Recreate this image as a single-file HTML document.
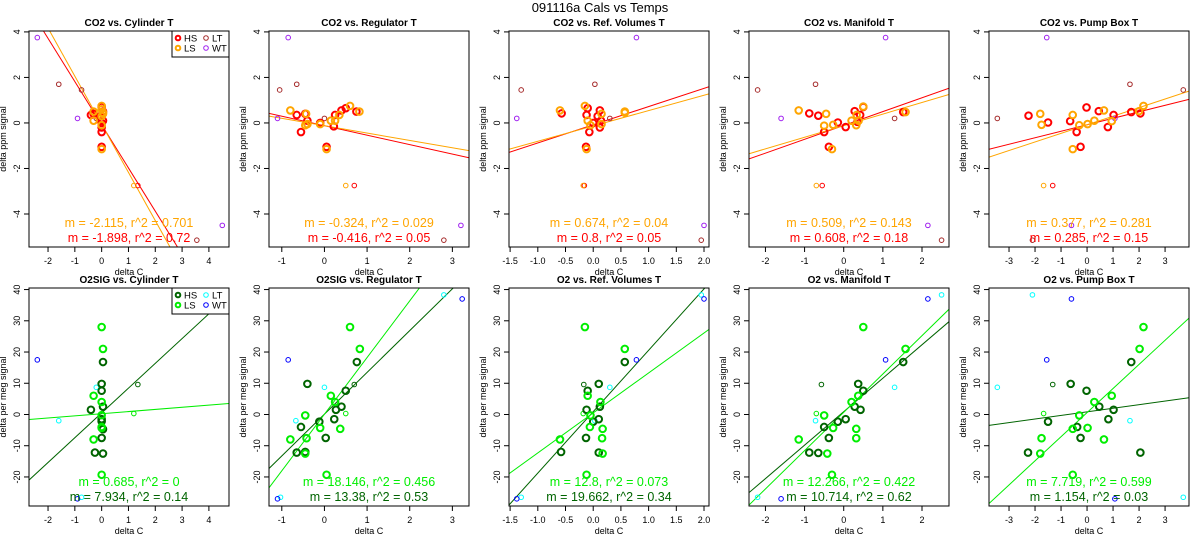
<!DOCTYPE html>
<html><head><meta charset="utf-8">
<style>
html,body{margin:0;padding:0;background:#fff;}
svg{display:block;font-family:"Liberation Sans",Arial,sans-serif;}
</style></head>
<body>
<svg id="chart" width="1200" height="550" viewBox="0 0 1200 550" xmlns="http://www.w3.org/2000/svg">
<text x="600" y="12" text-anchor="middle" font-size="13">091116a   Cals vs Temps</text>
</svg>
<script>
// ---------- data ----------
const panelTitlesTop = ["CO2 vs. Cylinder T","CO2 vs. Regulator T","CO2 vs. Ref. Volumes T","CO2 vs. Manifold T","CO2 vs. Pump Box T"];
const panelTitlesBot = ["O2SIG vs. Cylinder T","O2SIG vs. Regulator T","O2 vs. Ref. Volumes T","O2 vs. Manifold T","O2 vs. Pump Box T"];
const xDomains = [[-2.71,4.75],[-1.30,3.39],[-1.52,2.09],[-2.42,2.69],[-3.77,3.92]];
const xTicks = [[-2,-1,0,1,2,3,4],[-1,0,1,2,3],[-1.5,-1.0,-0.5,0,0.5,1.0,1.5,2.0],[-2,-1,0,1,2],[-3,-2,-1,0,1,2,3]];
const xTickLabels = [["-2","-1","0","1","2","3","4"],["-1","0","1","2","3"],["-1.5","-1.0","-0.5","0.0","0.5","1.0","1.5","2.0"],["-2","-1","0","1","2"],["-3","-2","-1","0","1","2","3"]];
const yDomainTop = [-5.45,4.04];
const yTicksTop = [-4,-2,0,2,4];
const yDomainBot = [-29.3,40.5];
const yTicksBot = [-20,-10,0,10,20,30,40];

// CO2 (top row) points per panel
const co2HS = [
 [[-0.4,0.35],[-0.3,0.4],[0,-0.4],[0,-0.2],[0,-1.05],[0,0.7],[0.05,0.5],[0.05,0.1],[-0.05,0.3],[0,0.0]],
 [[-0.65,0.35],[-0.45,0.4],[-0.55,-0.4],[-0.4,0.1],[-0.1,0.0],[0.05,-1.05],[0.25,0.35],[0.22,-0.15],[0.4,0.55],[0.5,0.65],[0.75,0.5]],
 [[-0.57,0.42],[-0.12,0.35],[-0.1,0.65],[-0.07,-0.4],[0.0,0.0],[0.08,0.3],[0.12,0.55],[0.12,-0.2],[-0.13,-1.05],[0.14,0.1]],
 [[-0.88,0.42],[-0.65,0.32],[-0.5,-0.4],[-0.38,-1.05],[-0.15,0.02],[0.05,-0.18],[0.28,0.52],[0.42,0.35],[0.5,0.7],[1.52,0.48],[0.35,0.05]],
 [[-2.25,0.32],[-1.5,0.02],[-0.65,0.08],[-0.4,-0.4],[-0.25,-1.05],[-0.02,0.68],[0.45,0.52],[0.8,-0.18],[1.02,0.35],[1.7,0.48],[2.05,0.42]]
];
const co2LS = [
 [[-0.3,0.5],[-0.3,0.1],[0,0.75],[0,0.6],[0.05,0.4],[0,-0.1],[0,-1.15],[0,0.3],[0.05,0.45]],
 [[-0.8,0.55],[-0.45,-0.1],[-0.4,-0.05],[-0.1,-0.05],[0.05,-1.15],[0.15,0.1],[0.25,0.1],[0.35,0.35],[0.6,0.75],[0.82,0.5],[-0.43,0.4]],
 [[-0.6,0.55],[-0.15,0.75],[-0.1,0.1],[-0.05,-0.1],[0.15,0.4],[0.15,-0.05],[0.57,0.5],[-0.12,-1.15],[0.57,0.45]],
 [[-1.15,0.55],[-0.45,0.4],[-0.5,-0.12],[-0.27,-0.08],[-0.3,-1.15],[0.2,0.1],[0.32,-0.1],[0.33,0.35],[0.5,0.72],[1.58,0.48],[0.38,0.1]],
 [[-1.8,0.4],[-1.75,-0.08],[-0.55,0.35],[-0.3,-0.1],[-0.55,-1.15],[0.02,-0.05],[0.28,0.1],[0.65,0.55],[0.95,0.08],[2.0,0.52],[2.17,0.75]]
];
const co2HSthin = [[[1.35,-2.75]],[[0.7,-2.75]],[[-0.16,-2.75]],[[-0.55,-2.75]],[[-1.32,-2.75]]];
const co2LSthin = [[[1.2,-2.75]],[[0.5,-2.75]],[[-0.18,-2.75]],[[-0.7,-2.75]],[[-1.67,-2.75]]];
const co2LT = [
 [[-1.6,1.7],[-0.75,1.45],[-0.2,0.2],[3.55,-5.15]],
 [[-1.05,1.45],[-0.65,1.7],[0,0.2],[2.8,-5.15]],
 [[-1.3,1.45],[0.03,1.7],[0.3,0.2],[1.95,-5.15]],
 [[-2.2,1.45],[-0.72,1.7],[1.3,0.2],[2.5,-5.15]],
 [[-3.45,0.2],[1.65,1.7],[3.7,1.45],[-2.1,-5.15]]
];
const co2WT = [
 [[-2.4,3.75],[-0.9,0.2],[4.5,-4.5]],
 [[-0.85,3.75],[-1.1,0.2],[3.2,-4.5]],
 [[-1.38,0.2],[0.78,3.75],[2.0,-4.5]],
 [[-1.6,0.2],[1.07,3.75],[2.15,-4.5]],
 [[-1.55,3.75],[1.07,0.2],[-0.6,-4.5]]
];
const co2SlopeHS = [-1.898,-0.416,0.8,0.608,0.285];
const co2IntHS = [-0.08,-0.12,-0.08,-0.11,-0.08];
const co2SlopeLS = [-2.115,-0.324,0.674,0.509,0.377];
const co2IntLS = [-0.06,-0.12,-0.13,-0.12,-0.08];
const co2TextLS = ["m = -2.115, r^2 = 0.701","m = -0.324, r^2 = 0.029","m = 0.674, r^2 = 0.04","m = 0.509, r^2 = 0.143","m = 0.377, r^2 = 0.281"];
const co2TextHS = ["m = -1.898, r^2 = 0.72","m = -0.416, r^2 = 0.05","m = 0.8, r^2 = 0.05","m = 0.608, r^2 = 0.18","m = 0.285, r^2 = 0.15"];

// O2 (bottom row)
const o2HS = [
 [[-0.4,1.5],[0,9.8],[0,7.6],[0.05,16.8],[0.05,2.5],[0,-2.2],[-0.25,-12.2],[0.05,-12.5],[0,-7.5],[0.05,-4.7],[0,-1.5]],
 [[-0.4,9.8],[-0.55,-4],[-0.12,-2.3],[-0.65,-12.2],[-0.45,-12],[0.03,-7.5],[0.23,-1.5],[0.27,1.5],[0.4,2.5],[0.5,7.6],[0.76,16.8]],
 [[-0.58,-12],[-0.12,1.5],[-0.13,-7.5],[-0.1,7.6],[0.1,9.8],[0.12,2.5],[0.1,-1.5],[0.0,-2.3],[0.1,-12.2],[0.57,16.8]],
 [[-0.88,-12.2],[-0.65,-12.3],[-0.5,-4],[-0.38,-7.5],[-0.15,-2.3],[0.05,-1.5],[0.28,2.5],[0.37,9.8],[0.43,1.5],[0.5,7.6],[1.52,16.8]],
 [[-2.27,-12.2],[-1.5,-2.3],[-0.63,9.8],[-0.38,-4],[-0.25,-7.5],[-0.02,7.6],[0.47,2.5],[0.82,-1.5],[1.02,1.5],[1.7,16.8],[2.05,-12.2]]
];
const o2LS = [
 [[0,28],[0.05,21],[-0.3,6],[0,4],[0,-0.2],[0,-4],[-0.3,-8],[0,-19.3],[0,-4.3]],
 [[-0.45,-0.3],[-0.8,-8],[-0.42,-7.6],[-0.45,-12.5],[-0.1,-4.3],[0.05,-19.3],[0.15,6],[0.25,4],[0.37,-4.6],[0.6,28],[0.83,21]],
 [[-0.6,-8],[-0.15,28],[-0.1,6],[-0.05,-0.3],[-0.06,-4],[0.13,4],[0.17,-4.6],[0.16,-7.6],[0.17,-12.5],[-0.12,-19.3],[0.57,21]],
 [[-1.15,-8],[-0.5,-0.3],[-0.27,-4.3],[-0.42,-12.5],[-0.3,-19.3],[0.2,4],[0.32,-4.6],[0.32,-7.6],[0.37,6],[0.5,28],[1.58,21]],
 [[-1.8,-12.5],[-1.75,-7.6],[-0.55,-4.6],[-0.3,-0.3],[0.02,-4.3],[0.28,4],[0.65,-8],[0.95,6],[2.02,21],[2.17,28],[-0.55,-19.3]]
];
const o2HSthin = [[[1.35,9.6]],[[0.7,9.6]],[[-0.17,9.6]],[[-0.57,9.6]],[[-1.32,9.6]]];
const o2LSthin = [[[1.2,0.3]],[[0.5,0.3]],[[-0.18,0.3]],[[-0.7,0.3]],[[-1.67,0.3]]];
const o2LT = [
 [[-0.2,8.7],[-1.6,-2],[-0.75,-26.5]],
 [[-0.67,-2],[0,8.7],[2.8,38.3],[-1.03,-26.5]],
 [[0.3,8.7],[0.03,-2],[1.95,38.3],[-1.3,-26.5]],
 [[-0.72,-2],[1.3,8.7],[2.5,38.3],[-2.2,-26.5]],
 [[-3.45,8.7],[1.65,-2],[3.7,-26.5],[-2.1,38.3]]
];
const o2WT = [
 [[-2.4,17.5],[-0.9,-27]],
 [[-0.85,17.5],[-1.1,-27],[3.23,37]],
 [[0.78,17.5],[-1.38,-27],[2.0,37]],
 [[1.07,17.5],[-1.6,-27],[2.15,37]],
 [[-1.55,17.5],[1.07,-27],[-0.6,37]]
];
const o2SlopeHS = [7.934,13.38,19.662,10.714,1.154];
const o2IntHS = [0.5,0.1,0.9,0.9,0.85];
const o2SlopeLS = [0.685,18.146,12.8,12.266,7.719];
const o2IntLS = [0.25,0.09,0.5,0.7,0.6];
const o2TextLS = ["m = 0.685, r^2 = 0","m = 18.146, r^2 = 0.456","m = 12.8, r^2 = 0.073","m = 12.266, r^2 = 0.422","m = 7.719, r^2 = 0.599"];
const o2TextHS = ["m = 7.934, r^2 = 0.14","m = 13.38, r^2 = 0.53","m = 19.662, r^2 = 0.34","m = 10.714, r^2 = 0.62","m = 1.154, r^2 = 0.03"];

// ---------- drawing ----------
const NS = "http://www.w3.org/2000/svg";
const svg = document.getElementById('chart');
function mk(tag, attrs, parent){
  const e = document.createElementNS(NS, tag);
  for (const k in attrs) e.setAttribute(k, attrs[k]);
  (parent||svg).appendChild(e);
  return e;
}
const PW = 200, PH_TOP = [31,247], PH_BOT = [288,506];

function drawPanel(col, row){
  const top = row===0;
  const x0 = col*240+29, x1 = x0+PW;
  const [y0,y1] = top ? PH_TOP : PH_BOT;
  const xd = xDomains[col];
  const yd = top ? yDomainTop : yDomainBot;
  const sx = v => x0 + (v - xd[0])/(xd[1]-xd[0])*PW;
  const sy = v => y1 - (v - yd[0])/(yd[1]-yd[0])*(y1-y0);
  const g = mk('g', {});
  
  
  const cid = 'clip'+row+'_'+col;
  const cp = mk('clipPath', {id:cid}, g);
  mk('rect', {x:x0,y:y0,width:PW,height:y1-y0}, cp);

  const t = mk('text', {x:(x0+x1)/2, y:y0-5, 'text-anchor':'middle','font-size':10,'font-weight':'bold'}, g);
  t.textContent = top ? panelTitlesTop[col] : panelTitlesBot[col];
  
  

  // x ticks
  xTicks[col].forEach((v,i)=>{
    const px = sx(v);
    const tk = mk('line', {x1:px,x2:px,y1:y1,y2:y1+5,stroke:'#000','stroke-width':1}, g);
    
    
    const tl = mk('text', {x:px,y:y1+17,'text-anchor':'middle','font-size':9}, g);
    tl.textContent = xTickLabels[col][i];
    
    
  });
  const xl = mk('text', {x:(x0+x1)/2,y:y1+28,'text-anchor':'middle','font-size':9}, g);
  xl.textContent = 'delta C';
  
  

  // y ticks
  (top?yTicksTop:yTicksBot).forEach(v=>{
    const py = sy(v);
    const tk = mk('line', {x1:x0-5,x2:x0,y1:py,y2:py,stroke:'#000','stroke-width':1}, g);
    
    
    const tl = mk('text', {x:x0-9,y:py,'text-anchor':'middle','font-size':9,transform:`rotate(-90 ${x0-9} ${py})`}, g);
    tl.textContent = String(v);
    
    
  });
  const yx = x0-23, yy = (y0+y1)/2;
  const yl = mk('text', {x:yx,y:yy,'text-anchor':'middle','font-size':9,transform:`rotate(-90 ${yx} ${yy})`}, g);
  yl.textContent = top ? 'delta ppm signal' : 'delta per meg signal';
  
  

  const colHS = top ? '#ff0000' : '#006400';
  const colLS = top ? '#ffa500' : '#00ee00';
  const colLT = top ? '#a52a2a' : '#00ffff';
  const colWT = top ? '#a020f0' : '#0000ff';

  // regression lines
  const lines = top ? [[co2SlopeHS[col],co2IntHS[col],colHS,'hs'],[co2SlopeLS[col],co2IntLS[col],colLS,'ls']]
                    : [[o2SlopeHS[col],o2IntHS[col],colHS,'hs'],[o2SlopeLS[col],o2IntLS[col],colLS,'ls']];
  lines.forEach(([m,b,c,n])=>{
    const ln = mk('line', {x1:sx(xd[0]),y1:sy(m*xd[0]+b),x2:sx(xd[1]),y2:sy(m*xd[1]+b),stroke:c,'stroke-width':1,'clip-path':`url(#${cid})`}, g);
    
    
  });

  function pts(arr, color, r, w, name){
    arr.forEach(p=>{
      const c = mk('circle', {cx:sx(p[0]),cy:sy(p[1]),r:r,fill:'none',stroke:color,'stroke-width':w,'clip-path':`url(#${cid})`}, g);
      
      
    });
  }
  if (top){
    pts(co2LT[col], colLT, 2.3, 1, 'point-lt');
    pts(co2WT[col], colWT, 2.3, 1, 'point-wt');
    pts(co2HSthin[col], colHS, 2.3, 1, 'point-hs');
    pts(co2LSthin[col], colLS, 2.3, 1, 'point-ls');
    pts(co2HS[col], colHS, 3.3, 2, 'point-hs');
    pts(co2LS[col], colLS, 3.3, 2, 'point-ls');
  } else {
    pts(o2LT[col], colLT, 2.3, 1, 'point-lt');
    pts(o2WT[col], colWT, 2.3, 1, 'point-wt');
    pts(o2HSthin[col], colHS, 2.3, 1, 'point-hs');
    pts(o2LSthin[col], colLS, 2.3, 1, 'point-ls');
    pts(o2HS[col], colHS, 3.3, 2, 'point-hs');
    pts(o2LS[col], colLS, 3.3, 2, 'point-ls');
  }

  // annotations
  const a1 = mk('text', {x:(x0+x1)/2,y:y1-20,'text-anchor':'middle','font-size':12.5,fill:colLS}, g);
  a1.textContent = top ? co2TextLS[col] : o2TextLS[col];
  
  
  const a2 = mk('text', {x:(x0+x1)/2,y:y1-5,'text-anchor':'middle','font-size':12.5,fill:colHS}, g);
  a2.textContent = top ? co2TextHS[col] : o2TextHS[col];
  
  

  const box = mk('rect', {x:x0,y:y0,width:PW,height:y1-y0,fill:'none',stroke:'#000','stroke-width':1}, g);
  
  

  if (col===0){
    const lg = mk('g', {}, g);
    
    
    mk('rect', {x:x1-57,y:y0,width:57,height:26,fill:'#fff',stroke:'#000','stroke-width':1}, lg);
    const ents = [['HS',colHS,x1-51,y0+7,2],['LT',colLT,x1-23,y0+7,1],['LS',colLS,x1-51,y0+17,2],['WT',colWT,x1-23,y0+17,1]];
    ents.forEach(([lab,c,lx,ly,w])=>{
      const e = mk('g', {}, lg);
      
      
      mk('circle', {cx:lx,cy:ly,r:2.3,fill:'none',stroke:c,'stroke-width':w}, e);
      const tt = mk('text', {x:lx+6,y:ly+3.5,'font-size':9.5}, e);
      tt.textContent = lab;
    });
  }
}
for (let r=0;r<2;r++) for (let c=0;c<5;c++) drawPanel(c,r);
</script>
</body></html>
